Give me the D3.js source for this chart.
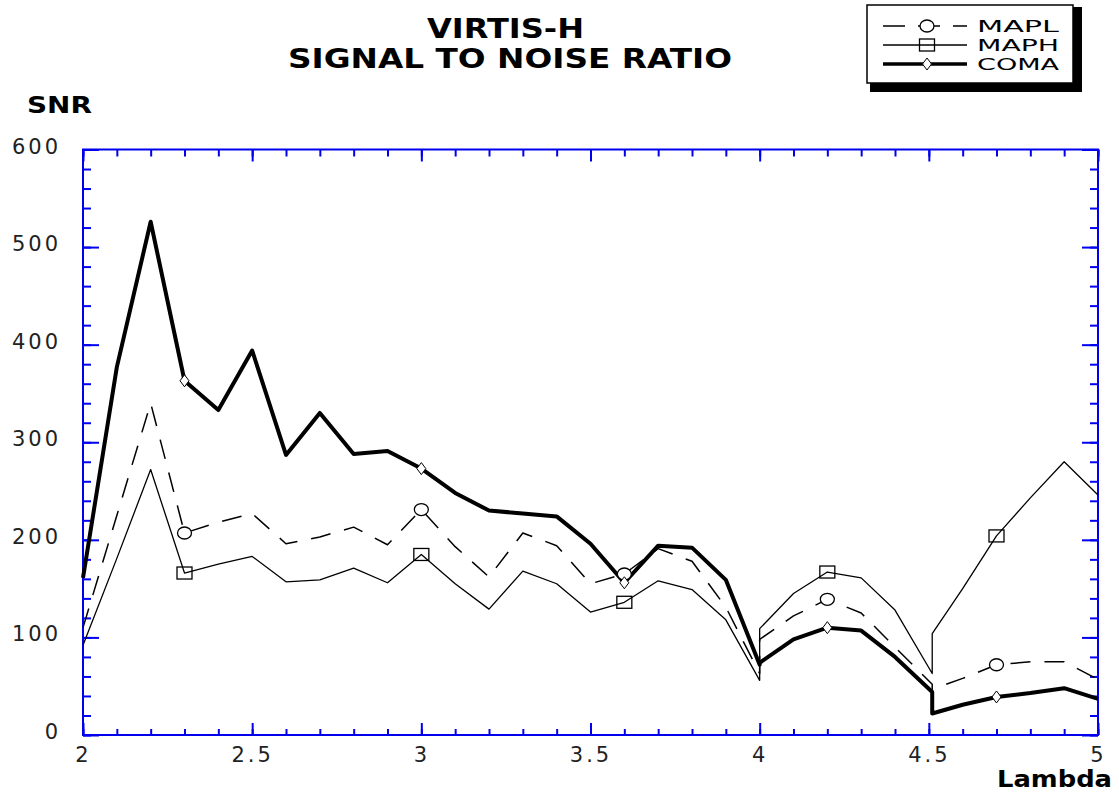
<!DOCTYPE html>
<html>
<head>
<meta charset="utf-8">
<script src="https://cdn.jsdelivr.net/npm/d3@7"></script>
<style>
  body { margin: 0; background: #fff; }
  svg { display: block; font-family: "DejaVu Sans", sans-serif; }
</style>
</head>
<body>
<svg id="chart" width="1119" height="794"></svg>
<script>
// VIRTIS-H signal to noise ratio
// band edges at 4.0 and 4.51 appear twice (end of one band, start of the next)
const lambda = [2.0, 2.1, 2.2, 2.3, 2.4, 2.5, 2.6, 2.7, 2.8, 2.9, 3.0, 3.1, 3.2, 3.3, 3.4, 3.5, 3.6, 3.7, 3.8, 3.9, 4.0,
                4.0, 4.1, 4.2, 4.3, 4.4, 4.51,
                4.51, 4.6, 4.7, 4.8, 4.9, 5.0];
const mapl = [110, 225, 340, 207, 218, 227, 196, 203, 213, 195, 231, 193, 162, 207, 194, 155, 165, 191, 178, 131, 63,
              98, 122, 139, 125, 90, 52,
              47, 58, 72, 75, 75, 57];
const maph = [92, 181, 272, 166, 175, 183, 157, 159, 171, 156, 185, 155, 129, 168, 155, 126, 136, 158, 149, 118, 56,
              109, 145, 167, 161, 128, 63,
              104, 150, 204, 243, 280, 246];
const coma = [161, 377, 526, 363, 333, 394, 287, 330, 288, 291, 273, 248, 230, 227, 224, 196, 156, 194, 192, 159, 72,
              74, 98, 110, 107, 80, 44,
              22, 31, 39, 43, 48, 37];
const markerLambda = [2.3, 3.0, 3.6, 4.2, 4.7];
const xTicks = [2, 2.5, 3, 3.5, 4, 4.5, 5];
const yTicks = [0, 100, 200, 300, 400, 500, 600];
const seriesNames = ["MAPL", "MAPH", "COMA"];

const svg = d3.select("#chart");
const axisColor = "#0000ee";
const box = { left: 83, right: 1098, top: 149.5, bottom: 735 };

const x = d3.scaleLinear().domain([2, 5]).range([box.left, box.right]);
const y = d3.scaleLinear().domain([0, 600]).range([box.bottom, box.top]);

const series = [
  { name: seriesNames[0], values: mapl, width: 1.5, dash: "20,14", marker: "circle" },
  { name: seriesNames[1], values: maph, width: 1.3, dash: null, marker: "square" },
  { name: seriesNames[2], values: coma, width: 4, dash: null, marker: "diamond" }
];

// Axes: major + minor ticks pointing inward on all four sides
const xMinor = d3.range(20, 51).map(d => d / 10);
const yMinor = d3.range(0, 601, 20);

function styleAxis(g) {
  g.select(".domain").remove();
  g.selectAll("line").attr("stroke", axisColor).attr("stroke-width", 2);
  g.selectAll("text")
    .attr("fill", "#222")
    .attr("font-size", 21)
    .attr("letter-spacing", "3px")
    .attr("font-family", "'DejaVu Sans', sans-serif");
}

svg.append("g").attr("transform", `translate(0,${box.bottom})`)
  .call(d3.axisBottom(x).tickValues(xMinor).tickSize(-6).tickFormat(""))
  .call(styleAxis);
svg.append("g").attr("transform", `translate(0,${box.bottom})`)
  .call(d3.axisBottom(x).tickValues(xTicks).tickSize(-12).tickPadding(12).tickFormat(d3.format("~g")))
  .call(styleAxis);
svg.append("g").attr("transform", `translate(0,${box.top})`)
  .call(d3.axisTop(x).tickValues(xMinor).tickSize(-7).tickFormat(""))
  .call(styleAxis);
svg.append("g").attr("transform", `translate(0,${box.top})`)
  .call(d3.axisTop(x).tickValues(xTicks).tickSize(-12).tickFormat(""))
  .call(styleAxis);

svg.append("g").attr("transform", `translate(${box.left},0)`)
  .call(d3.axisLeft(y).tickValues(yMinor).tickSize(-8).tickFormat(""))
  .call(styleAxis);
svg.append("g").attr("transform", `translate(${box.left},0)`)
  .call(d3.axisLeft(y).tickValues(yTicks).tickSize(-16).tickPadding(22).tickFormat(d3.format("d")))
  .call(styleAxis)
  .call(g => g.selectAll("text").attr("dy", "0.17em"));
svg.append("g").attr("transform", `translate(${box.right},0)`)
  .call(d3.axisRight(y).tickValues(yMinor).tickSize(-8).tickFormat(""))
  .call(styleAxis);
svg.append("g").attr("transform", `translate(${box.right},0)`)
  .call(d3.axisRight(y).tickValues(yTicks).tickSize(-16).tickFormat(""))
  .call(styleAxis);

// Frame
svg.append("rect")
  .attr("x", box.left).attr("y", box.top)
  .attr("width", box.right - box.left).attr("height", box.bottom - box.top)
  .attr("fill", "none").attr("stroke", axisColor).attr("stroke-width", 2);

// Lines
const line = d3.line()
  .x((d, i) => x(lambda[i]))
  .y(d => y(d));

const lineGroup = svg.append("g").attr("class", "lines");
series.forEach(s => {
  lineGroup.append("path")
    .datum(s.values)
    .attr("d", line)
    .attr("fill", "none")
    .attr("stroke", "#000")
    .attr("stroke-width", s.width)
    .attr("stroke-linejoin", "round")
    .attr("stroke-dasharray", s.dash);
});

// Markers
function drawMarker(g, type, cx, cy) {
  if (type === "circle") {
    g.append("ellipse").attr("cx", cx).attr("cy", cy).attr("rx", 7).attr("ry", 6)
      .attr("fill", "#fff").attr("stroke", "#000").attr("stroke-width", 1.3);
  } else if (type === "square") {
    g.append("rect").attr("x", cx - 7.5).attr("y", cy - 6).attr("width", 15).attr("height", 12)
      .attr("fill", "none").attr("stroke", "#000").attr("stroke-width", 1.3);
  } else {
    g.append("path")
      .attr("d", `M${cx},${cy - 6}L${cx + 4.5},${cy}L${cx},${cy + 6}L${cx - 4.5},${cy}Z`)
      .attr("fill", "#fff").attr("stroke", "#000").attr("stroke-width", 1);
  }
}

const markerGroup = svg.append("g").attr("class", "markers");
series.forEach(s => {
  markerLambda.forEach(l => {
    const i = lambda.indexOf(l);
    drawMarker(markerGroup, s.marker, x(lambda[i]), y(s.values[i]));
  });
});

// Titles and axis names
svg.append("text").text("VIRTIS-H")
  .attr("x", 427).attr("y", 38)
  .attr("font-size", 27).attr("font-weight", "bold")
  .attr("textLength", 157).attr("lengthAdjust", "spacingAndGlyphs");
svg.append("text").text("SIGNAL TO NOISE RATIO")
  .attr("x", 288).attr("y", 68)
  .attr("font-size", 27).attr("font-weight", "bold")
  .attr("textLength", 444).attr("lengthAdjust", "spacingAndGlyphs");
svg.append("text").text("SNR")
  .attr("x", 27).attr("y", 113)
  .attr("font-size", 23).attr("font-weight", "bold")
  .attr("textLength", 65).attr("lengthAdjust", "spacingAndGlyphs");
svg.append("text").text("Lambda")
  .attr("x", 997).attr("y", 787)
  .attr("font-size", 23).attr("font-weight", "bold")
  .attr("textLength", 115).attr("lengthAdjust", "spacingAndGlyphs");

// Legend with drop shadow
const legend = svg.append("g").attr("class", "legend");
legend.append("rect").attr("x", 870).attr("y", 7).attr("width", 212).attr("height", 85).attr("fill", "#000");
legend.append("rect").attr("x", 867).attr("y", 5).attr("width", 206).attr("height", 78)
  .attr("fill", "#fff").attr("stroke", "#000").attr("stroke-width", 1.5);

const legendRowY = [26, 45, 64];
const legendTextY = [32, 51, 70];
series.forEach((s, i) => {
  legend.append("line")
    .attr("x1", 883).attr("x2", 967)
    .attr("y1", legendRowY[i]).attr("y2", legendRowY[i])
    .attr("stroke", "#000")
    .attr("stroke-width", s.width === 4 ? 3.5 : 1.5)
    .attr("stroke-dasharray", s.dash ? "22,13" : null);
  drawMarker(legend, s.marker, 927, legendRowY[i]);
  legend.append("text").text(s.name)
    .attr("x", 977).attr("y", legendTextY[i])
    .attr("font-size", 16)
    .attr("textLength", 82).attr("lengthAdjust", "spacingAndGlyphs");
});
</script>
</body>
</html>
